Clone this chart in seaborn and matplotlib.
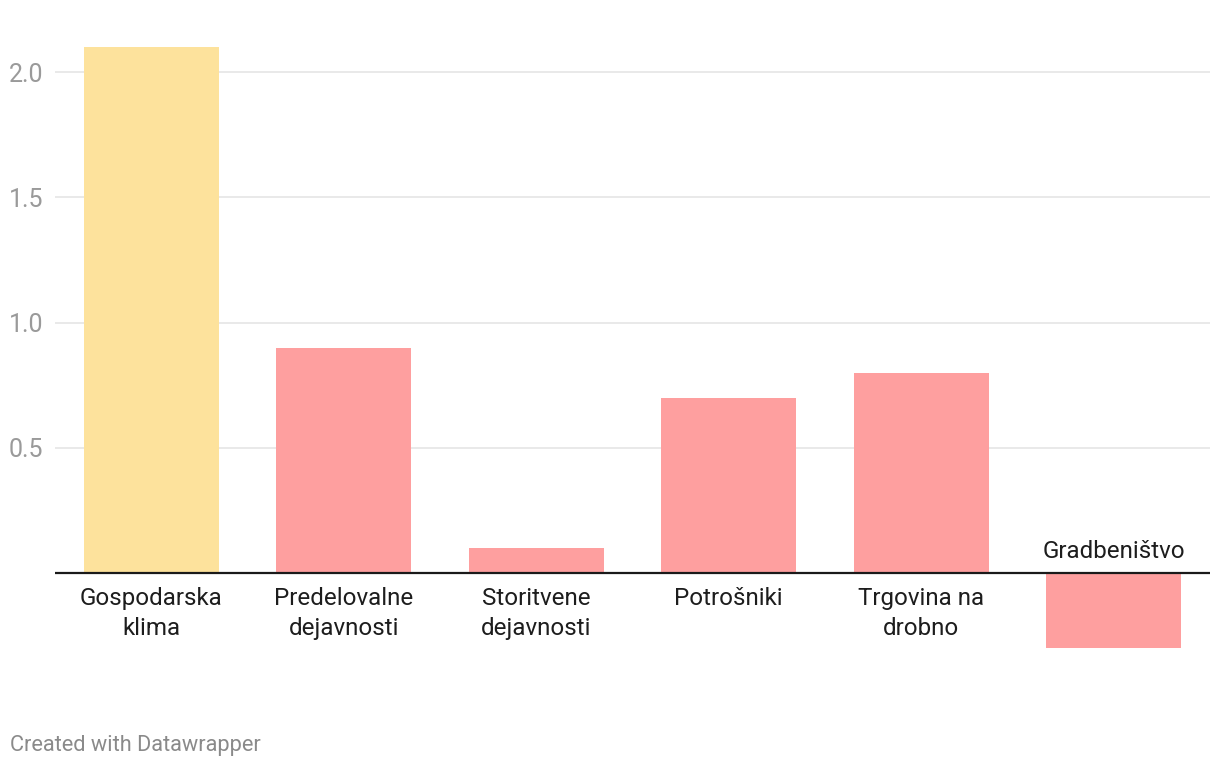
import matplotlib
matplotlib.use("Agg")
import matplotlib.pyplot as plt
import seaborn as sns

# ----------------------------
# Data
# ----------------------------
categories = ["Gospodarska\nklima", "Predelovalne\ndejavnosti", "Storitvene\ndejavnosti",
              "Potrošniki", "Trgovina na\ndrobno", "Gradbeništvo"]
values = [2.1, 0.9, 0.1, 0.7, 0.8, -0.3]
bar_colors = ["#fde29c", "#fe9f9f", "#fe9f9f", "#fe9f9f", "#fe9f9f", "#fe9f9f"]
y_ticks = [0.5, 1.0, 1.5, 2.0]

sns.set_style("white")
plt.rcParams["font.family"] = ["Roboto", "DejaVu Sans"]

fig = plt.figure(figsize=(12.2, 7.68), dpi=100)
ax = fig.add_axes([0.0451, 0.1397, 0.9467, 0.8056])

sns.barplot(x=categories, y=values, hue=categories, palette=bar_colors,
            width=0.7, legend=False, saturation=1, linewidth=0, ax=ax)

ax.set_xlim(-0.5, len(categories) - 0.5)
ax.set_ylim(-0.35, 2.12)
ax.set_yticks(y_ticks)
ax.set_yticklabels([f"{t:.1f}" for t in y_ticks], color="#9a9a9a", fontsize=18)
ax.tick_params(axis="y", length=0, pad=8.5)
ax.set_xticks([])
ax.set_xlabel("")
ax.set_ylabel("")

for t in y_ticks:
    ax.axhline(t, color="#e3e3e3", lw=1.1, zorder=0)
ax.axhline(0, color="#1a1a1a", lw=1.6, zorder=3)
for s in ax.spines.values():
    s.set_visible(False)

# category labels under / above the zero line
for i, (cat, v) in enumerate(zip(categories, values)):
    if v >= 0:
        ax.annotate(cat, xy=(i, 0), xytext=(0, -10), textcoords="offset points",
                    ha="center", va="top", fontsize=17.4, color="#1d1d1d",
                    linespacing=1.38)
    else:
        ax.annotate(cat, xy=(i, 0), xytext=(0, 7), textcoords="offset points",
                    ha="center", va="bottom", fontsize=17.4, color="#1d1d1d")

fig.text(10 / 1220, 1 - 745 / 768, "Created with Datawrapper", fontsize=15.7,
         color="#8a8a8a", ha="left", va="center")

plt.savefig("out.png", dpi=100)
plt.close()
